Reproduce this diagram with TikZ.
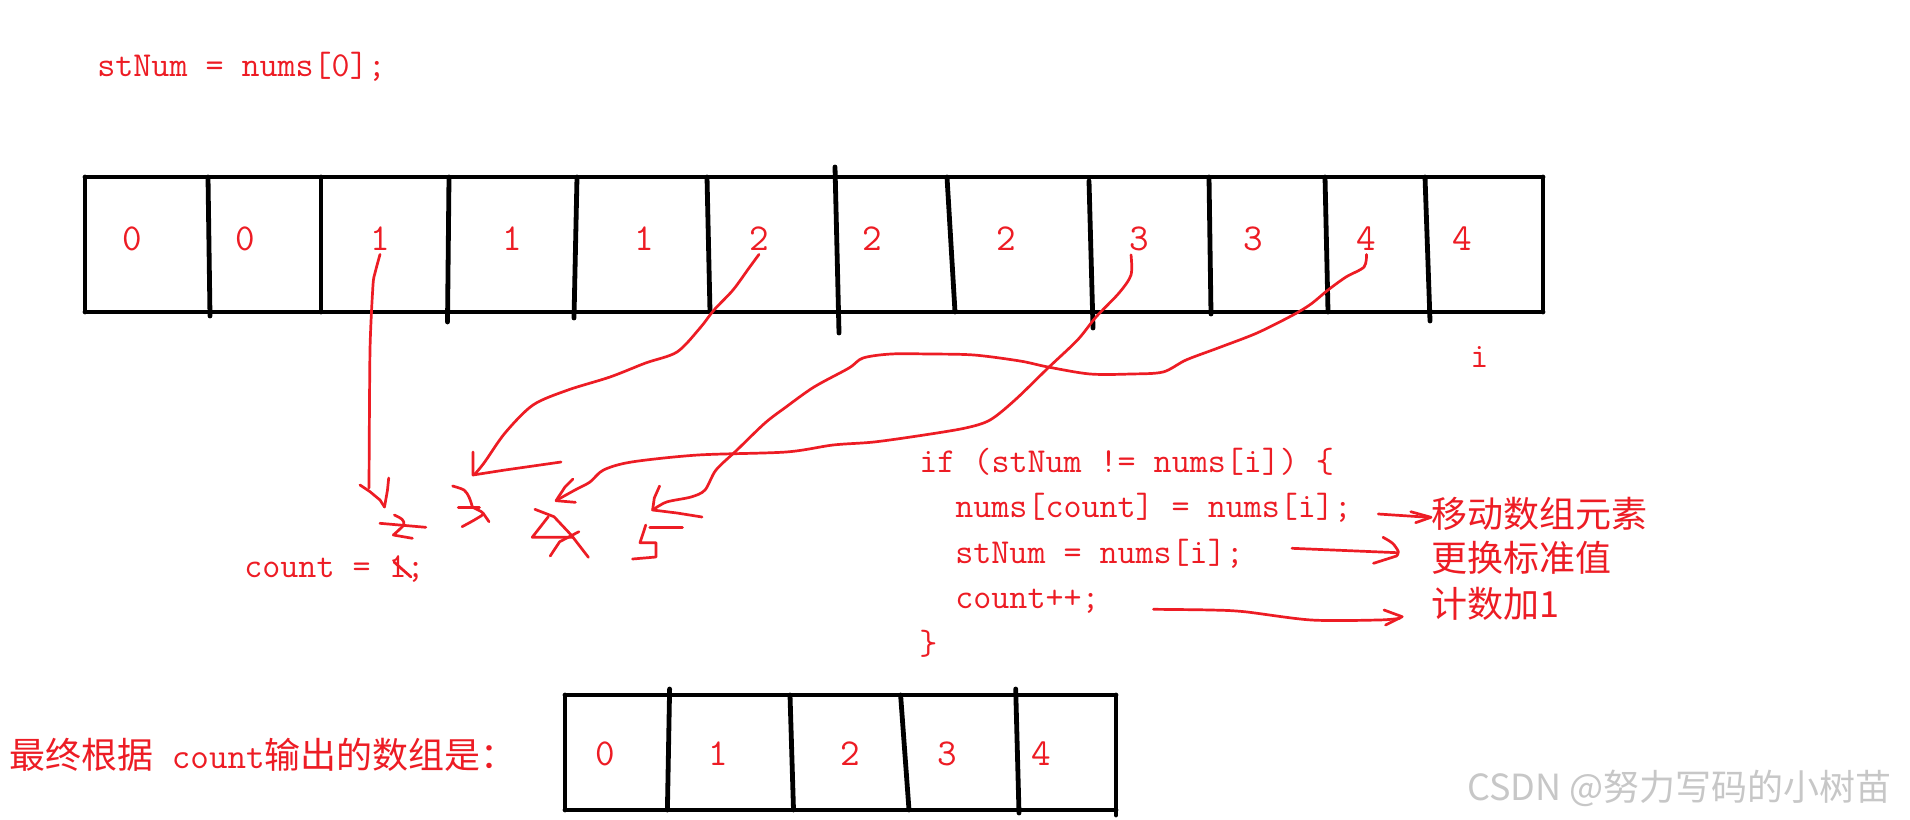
\documentclass[tikz,border=0pt]{standalone}
\usepackage{fontspec}
\newfontfamily\cjk{Noto Sans CJK SC}
\definecolor{pred}{HTML}{ED1C24}
\tikzset{
  code/.style={font=\ttfamily\fontsize{17.5}{20}\selectfont, text=pred, inner sep=0pt, anchor=base west},
  digit/.style={font=\ttfamily\fontsize{19}{20}\selectfont, text=pred, inner sep=2pt, anchor=base},
  cjklabel/.style={font=\cjk\fontsize{18}{20}\selectfont, text=pred, inner sep=0pt, anchor=base west},
  cellline/.style={black, line width=2.4pt, line cap=round},
  ink/.style={pred, line width=1.35pt, line cap=round, line join=round},
}
\begin{document}
\begin{tikzpicture}[x=0.5pt,y=-0.5pt]
\fill[white] (0,0) rectangle (1910,819);
\useasboundingbox (0,0) rectangle (1910,819);

% ---------- top text ----------
\node[code] (init) at (97,76) {stNum = nums[0];};

% ---------- big array ----------
\draw[cellline] (85,177) -- (1543,177);
\draw[cellline] (85,312) -- (1543,312);
\draw[cellline] (85,177) -- (85,312);
\draw[cellline] (1543,177) -- (1543,312);
\draw[cellline] (208,177) -- (210,316);
\draw[cellline] (321,177) -- (321,312);
\draw[cellline] (449,177) -- (447.5,322);
\draw[cellline] (577,177) -- (574,318);
\draw[cellline] (707,177) -- (710,312);
\draw[cellline] (835,167) -- (839,333);
\draw[cellline] (947,177) -- (955,312);
\draw[cellline] (1089,181) -- (1093,328);
\draw[cellline] (1209,177) -- (1211,314);
\draw[cellline] (1325,177) -- (1328,312);
\draw[cellline] (1425,177) -- (1430,321);

\node[digit] (c1) at (132,250) {0};
\node[digit] (c2) at (245,250) {0};
\node[digit] (c3) at (380,250) {1};
\node[digit] (c4) at (512,250) {1};
\node[digit] (c5) at (644,250) {1};
\node[digit] (c6) at (759,250) {2};
\node[digit] (c7) at (872,250) {2};
\node[digit] (c8) at (1006,250) {2};
\node[digit] (c9) at (1139,250) {3};
\node[digit] (c10) at (1253.5,250) {3};
\node[digit] (c11) at (1366.5,250) {4};
\node[digit] (c12) at (1462.5,250) {4};

\node[code] (iv) at (1470,367) {i};

% ---------- red connectors ----------
% from 1
\draw[ink] plot[smooth, tension=0.4] coordinates {(c3.south) (375,273) (373,285) (370,350) (369,488)};
\draw[ink] (360,485) -- (370,491.7) -- (380,500) -- (384.5,507);
\draw[ink] (388.7,478) -- (387.5,490) -- (384.5,507);

% from 2
\draw[ink] plot[smooth, tension=0.5] coordinates {(c6.south) (749,268) (733,290) (714,310) (700,328) (677,352) (645.6,363) (610,377) (568,390) (533,405) (505,433) (484,463) (474,475)};
\draw[ink] (473,452) -- (473,475) -- (505,470) -- (533,466) -- (561,462);

% from 4
\draw[ink] plot[smooth, tension=0.5] coordinates {(c11.south) (1364,267) (1346,277) (1328,290) (1311,304) (1293,315) (1257,333) (1218,348) (1186,360) (1163,372) (1131,374) (1090,374) (1048,367) (1020,361) (974,355) (930,354) (891,354) (863,358) (849,368) (814,387) (786,407) (765,423) (737,450) (716,470) (705,490) (691,497) (666.6,502) (652.6,510)};
\draw[ink] (659.6,486) -- (654.3,498) -- (652.6,510) -- (677,513) -- (702,517);

% from 3
\draw[ink] plot[smooth, tension=0.5] coordinates {([xshift=-4pt]c9.south) (1131,275) (1119,293) (1096,317) (1077.5,340) (1048,368) (1015,400) (990,420) (965.5,428) (924,435) (874,442) (833,445) (786,452) (698,455) (631.5,462) (603.5,470) (590,482) (575,490) (557,500)};
\draw[ink] (573,479) -- (565,487) -- (556,500.7) -- (575.4,502.3);

% ---------- handwritten counts ----------
\draw[ink] plot[smooth, tension=0.5] coordinates {(394.4,515) (402,519.3) (403.6,525) (393.3,535)} -- (412.4,538.3);
\draw[ink] (379.9,523.3) -- (425.8,527.3);
\draw[ink] plot[smooth, tension=0.5] coordinates {(452.6,486) (464,490) (469,497) (472.5,507.3)};
\draw[ink] (458.3,507.3) -- (479.4,507.3);
\draw[ink] plot[smooth, tension=0.5] coordinates {(472.5,507.3) (483.2,513.3) (476,519) (462.1,526.7)};
\draw[ink] (483.2,513.3) -- (489,521.7);
\draw[ink] (534.9,509.3) -- (554,516.7) -- (571.2,535) -- (588.4,557.3);
\draw[ink] (548.3,516.7) -- (532.2,537.3) -- (573.1,537.3);
\draw[ink] (578.9,531.7) -- (559.7,541.7) -- (550.2,556);
\draw[ink] (649.8,527.3) -- (682.4,527.3);
\draw[ink] (645.8,525) -- (640,542.7) -- (656,542.7) -- (656,557) -- (632.5,559);

\node[code] (cnt) at (244,577) {count = 1;};
\draw[ink] (394,562) -- (411,577);

% ---------- code block ----------
\node[code] (ifl) at (919,472) {if (stNum != nums[i]) \{};
\node[code] (l1) at (955,517) {nums[count] = nums[i];};
\node[code] (l2) at (955,563) {stNum = nums[i];};
\node[code] (l3) at (955,608) {count++;};
\node[code] (cl) at (919,654) {\}};

\node[cjklabel] (t1) at (1431,527) {移动数组元素};
\node[cjklabel] (t2) at (1431,571) {更换标准值};
\node[cjklabel] (t3) at (1431,617) {计数加1};

\draw[ink] (1378.3,514) -- (1428.5,517.3);
\draw[ink] (1410.8,511.7) -- (1431,517.3) -- (1415.6,522.7);
\draw[ink] (1292,548.3) -- (1397.4,552.7);
\draw[ink] plot[smooth, tension=0.5] coordinates {(1383,537.3) (1392.6,543.3) (1398.4,551.7) (1396.5,556)} -- (1373.5,563.3);
\draw[ink] plot[smooth, tension=0.5] coordinates {(1153.5,609.3) (1210.9,610) (1244.4,611.7) (1311.3,620) (1378.3,620) (1399.8,618.3)};
\draw[ink] (1384,610) -- (1402.2,616.7) -- (1385.5,625);

% ---------- result array ----------
\node[cjklabel] (res) at (9,768) {最终根据\texttt{ count}输出的数组是：};
\draw[cellline] (565,695) -- (1116,695);
\draw[cellline] (565,810) -- (1116,810);
\draw[cellline] (565,695) -- (565,810);
\draw[cellline] (1116,695) -- (1116,815);
\draw[cellline] (669.6,689) -- (667.4,810);
\draw[cellline] (790,695) -- (793.5,810);
\draw[cellline] (900.6,695) -- (909,810);
\draw[cellline] (1015.7,689) -- (1019,813);
\node[digit] (r1) at (605,765) {0};
\node[digit] (r2) at (718.7,765) {1};
\node[digit] (r3) at (850.7,765) {2};
\node[digit] (r4) at (947.5,765) {3};
\node[digit] (r5) at (1041.4,765) {4};

% ---------- watermark ----------
\node[anchor=base west, font=\cjk\fontsize{18}{20}\selectfont, text=black!22, inner sep=0pt] (wm) at (1467,800) {CSDN @努力写码的小树苗};
\end{tikzpicture}
\end{document}
